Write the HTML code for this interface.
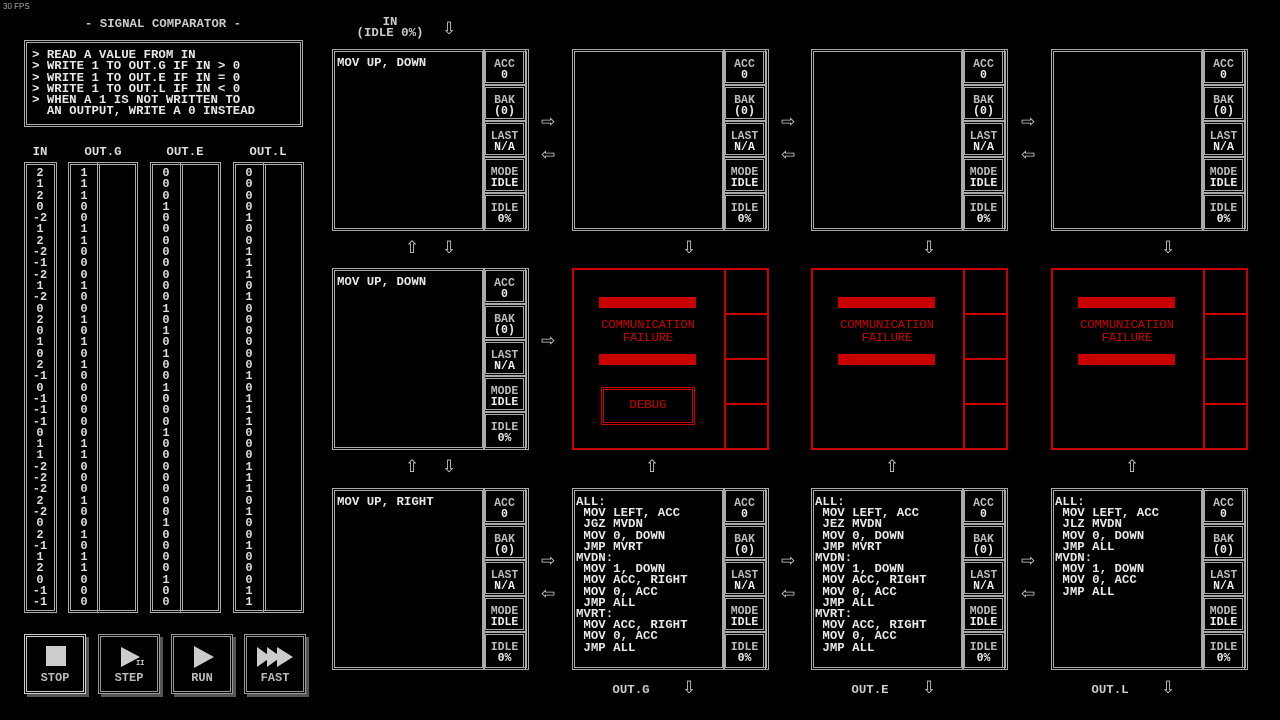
<!DOCTYPE html>
<html><head><meta charset="utf-8"><style>
*{margin:0;padding:0;box-sizing:border-box}
body{width:1280px;height:720px;background:#000;position:relative;overflow:hidden;font-family:"Liberation Mono",monospace;font-size:12.4px;color:#ddd;font-weight:bold}
.a{position:absolute}
.box{position:absolute;border:3px double #aaa}
pre{font-family:"Liberation Mono",monospace;font-size:12.4px;line-height:11.2px;font-weight:bold;color:#e8e8e8}
.reg{position:absolute;left:148px;width:43px;height:36px;border:3px double #aaa;text-align:center;font-size:11.5px;line-height:11px;padding-top:7px;color:#bbb}
.reg b{color:#eee}
.arr{position:absolute;font-family:"DejaVu Sans",sans-serif;font-size:17px;color:#ccc;font-weight:normal;line-height:17px}
.red{position:absolute;border:2px solid #c80000;width:197px;height:182px}
.rc{position:absolute;left:150px;width:45px;height:45px;border-left:2px solid #c80000;border-bottom:2px solid #c80000}
.bar{position:absolute;left:25px;width:97px;height:11px;background:#c80000}
.cf{position:absolute;left:0;width:148px;top:49px;text-align:center;color:#d00000;font-size:12px;line-height:13px;font-weight:normal}
.btn{position:absolute;top:634px;width:62px;height:60px;border:3px double #999;box-shadow:3px 3px 0 #555;text-align:center;color:#bbb;font-size:12px}
.btn span{position:absolute;bottom:6px;left:0;width:100%}
.col{position:absolute;text-align:center;line-height:11.3px;font-size:12px}
</style></head><body>
<div class="a" style="left:3px;top:2px;font-size:8px;color:#aaa;font-weight:normal;font-family:'Liberation Sans',sans-serif">30 FPS</div>
<div class="a" style="left:24px;width:278px;top:17px;text-align:center;color:#ccc">- SIGNAL COMPARATOR -</div>
<div class="box" style="left:24px;top:40px;width:279px;height:87px;padding:7px 0 0 5px"><pre style="line-height:11.3px">&gt; READ A VALUE FROM IN
&gt; WRITE 1 TO OUT.G IF IN &gt; 0
&gt; WRITE 1 TO OUT.E IF IN = 0
&gt; WRITE 1 TO OUT.L IF IN &lt; 0
&gt; WHEN A 1 IS NOT WRITTEN TO
  AN OUTPUT, WRITE A 0 INSTEAD</pre></div>
<div class="a" style="left:24px;width:32px;top:145px;text-align:center">IN</div>
<div class="a" style="left:68px;width:70px;top:145px;text-align:center">OUT.G</div>
<div class="a" style="left:150px;width:70px;top:145px;text-align:center">OUT.E</div>
<div class="a" style="left:233px;width:70px;top:145px;text-align:center">OUT.L</div>
<div class="box" style="left:24px;top:162px;width:33px;height:451px"></div>
<div class="box" style="left:68px;top:162px;width:70px;height:451px"></div><div class="box" style="left:97px;top:162px;width:41px;height:451px"></div>
<div class="box" style="left:150px;top:162px;width:71px;height:451px"></div><div class="box" style="left:180px;top:162px;width:41px;height:451px"></div>
<div class="box" style="left:233px;top:162px;width:71px;height:451px"></div><div class="box" style="left:263px;top:162px;width:41px;height:451px"></div>
<div class="col" style="left:26px;width:28px;top:168px">2<br>1<br>2<br>0<br>-2<br>1<br>2<br>-2<br>-1<br>-2<br>1<br>-2<br>0<br>2<br>0<br>1<br>0<br>2<br>-1<br>0<br>-1<br>-1<br>-1<br>0<br>1<br>1<br>-2<br>-2<br>-2<br>2<br>-2<br>0<br>2<br>-1<br>1<br>2<br>0<br>-1<br>-1</div>
<div class="col" style="left:70px;width:28px;top:168px">1<br>1<br>1<br>0<br>0<br>1<br>1<br>0<br>0<br>0<br>1<br>0<br>0<br>1<br>0<br>1<br>0<br>1<br>0<br>0<br>0<br>0<br>0<br>0<br>1<br>1<br>0<br>0<br>0<br>1<br>0<br>0<br>1<br>0<br>1<br>1<br>0<br>0<br>0</div>
<div class="col" style="left:152px;width:28px;top:168px">0<br>0<br>0<br>1<br>0<br>0<br>0<br>0<br>0<br>0<br>0<br>0<br>1<br>0<br>1<br>0<br>1<br>0<br>0<br>1<br>0<br>0<br>0<br>1<br>0<br>0<br>0<br>0<br>0<br>0<br>0<br>1<br>0<br>0<br>0<br>0<br>1<br>0<br>0</div>
<div class="col" style="left:235px;width:28px;top:168px">0<br>0<br>0<br>0<br>1<br>0<br>0<br>1<br>1<br>1<br>0<br>1<br>0<br>0<br>0<br>0<br>0<br>0<br>1<br>0<br>1<br>1<br>1<br>0<br>0<br>0<br>1<br>1<br>1<br>0<br>1<br>0<br>0<br>1<br>0<br>0<br>0<br>1<br>1</div>

<div class="btn" style="left:24px;border-color:#ccc"><div class="a" style="left:19px;top:9px;width:20px;height:20px;background:#ccc"></div><span>STOP</span></div>
<div class="btn" style="left:98px"><div class="a" style="left:20px;top:10px;width:0;height:0;border-left:19px solid #ccc;border-top:10px solid transparent;border-bottom:10px solid transparent"></div><div class="a" style="left:35px;top:23px;font-size:7px;color:#ccc">II</div><span>STEP</span></div>
<div class="btn" style="left:171px"><div class="a" style="left:20px;top:9px;width:0;height:0;border-left:20px solid #ccc;border-top:11px solid transparent;border-bottom:11px solid transparent"></div><span>RUN</span></div>
<div class="btn" style="left:244px"><div class="a" style="left:10px;top:10px;width:0;height:0;border-left:14px solid #ccc;border-top:10px solid transparent;border-bottom:10px solid transparent"></div><div class="a" style="left:20px;top:10px;width:0;height:0;border-left:14px solid #ccc;border-top:10px solid transparent;border-bottom:10px solid transparent"></div><div class="a" style="left:30px;top:10px;width:0;height:0;border-left:16px solid #ccc;border-top:10px solid transparent;border-bottom:10px solid transparent"></div><span>FAST</span></div>

<div class="a" style="left:355px;top:17px;width:70px;text-align:center;line-height:11px;color:#ccc">IN<br>(IDLE 0%)</div>
<div class="arr" style="left:442px;top:21px">⇩</div>

<div class="box" style="left:332px;top:49px;width:197px;height:182px"><div class="box" style="left:-3px;top:-3px;width:153px;height:182px"></div><pre style="position:absolute;left:2px;top:6px">MOV UP, DOWN</pre>
<div class="reg" style="top:-3px">ACC<br><b>0</b></div><div class="reg" style="top:33px">BAK<br><b>(0)</b></div><div class="reg" style="top:69px">LAST<br><b>N/A</b></div><div class="reg" style="top:105px">MODE<br><b>IDLE</b></div><div class="reg" style="top:141px;height:38px">IDLE<br><b>0%</b></div></div>

<div class="box" style="left:572px;top:49px;width:197px;height:182px"><div class="box" style="left:-3px;top:-3px;width:153px;height:182px"></div>
<div class="reg" style="top:-3px">ACC<br><b>0</b></div><div class="reg" style="top:33px">BAK<br><b>(0)</b></div><div class="reg" style="top:69px">LAST<br><b>N/A</b></div><div class="reg" style="top:105px">MODE<br><b>IDLE</b></div><div class="reg" style="top:141px;height:38px">IDLE<br><b>0%</b></div></div>

<div class="box" style="left:811px;top:49px;width:197px;height:182px"><div class="box" style="left:-3px;top:-3px;width:153px;height:182px"></div>
<div class="reg" style="top:-3px">ACC<br><b>0</b></div><div class="reg" style="top:33px">BAK<br><b>(0)</b></div><div class="reg" style="top:69px">LAST<br><b>N/A</b></div><div class="reg" style="top:105px">MODE<br><b>IDLE</b></div><div class="reg" style="top:141px;height:38px">IDLE<br><b>0%</b></div></div>

<div class="box" style="left:1051px;top:49px;width:197px;height:182px"><div class="box" style="left:-3px;top:-3px;width:153px;height:182px"></div>
<div class="reg" style="top:-3px">ACC<br><b>0</b></div><div class="reg" style="top:33px">BAK<br><b>(0)</b></div><div class="reg" style="top:69px">LAST<br><b>N/A</b></div><div class="reg" style="top:105px">MODE<br><b>IDLE</b></div><div class="reg" style="top:141px;height:38px">IDLE<br><b>0%</b></div></div>

<div class="box" style="left:332px;top:268px;width:197px;height:182px"><div class="box" style="left:-3px;top:-3px;width:153px;height:182px"></div><pre style="position:absolute;left:2px;top:6px">MOV UP, DOWN</pre>
<div class="reg" style="top:-3px">ACC<br><b>0</b></div><div class="reg" style="top:33px">BAK<br><b>(0)</b></div><div class="reg" style="top:69px">LAST<br><b>N/A</b></div><div class="reg" style="top:105px">MODE<br><b>IDLE</b></div><div class="reg" style="top:141px;height:38px">IDLE<br><b>0%</b></div></div>

<div class="box" style="left:332px;top:488px;width:197px;height:182px"><div class="box" style="left:-3px;top:-3px;width:153px;height:182px"></div><pre style="position:absolute;left:2px;top:6px">MOV UP, RIGHT</pre>
<div class="reg" style="top:-3px">ACC<br><b>0</b></div><div class="reg" style="top:33px">BAK<br><b>(0)</b></div><div class="reg" style="top:69px">LAST<br><b>N/A</b></div><div class="reg" style="top:105px">MODE<br><b>IDLE</b></div><div class="reg" style="top:141px;height:38px">IDLE<br><b>0%</b></div></div>

<div class="box" style="left:572px;top:488px;width:197px;height:182px"><div class="box" style="left:-3px;top:-3px;width:153px;height:182px"></div><pre style="position:absolute;left:1px;top:6px">ALL:
 MOV LEFT, ACC
 JGZ MVDN
 MOV 0, DOWN
 JMP MVRT
MVDN:
 MOV 1, DOWN
 MOV ACC, RIGHT
 MOV 0, ACC
 JMP ALL
MVRT:
 MOV ACC, RIGHT
 MOV 0, ACC
 JMP ALL</pre>
<div class="reg" style="top:-3px">ACC<br><b>0</b></div><div class="reg" style="top:33px">BAK<br><b>(0)</b></div><div class="reg" style="top:69px">LAST<br><b>N/A</b></div><div class="reg" style="top:105px">MODE<br><b>IDLE</b></div><div class="reg" style="top:141px;height:38px">IDLE<br><b>0%</b></div></div>

<div class="box" style="left:811px;top:488px;width:197px;height:182px"><div class="box" style="left:-3px;top:-3px;width:153px;height:182px"></div><pre style="position:absolute;left:1px;top:6px">ALL:
 MOV LEFT, ACC
 JEZ MVDN
 MOV 0, DOWN
 JMP MVRT
MVDN:
 MOV 1, DOWN
 MOV ACC, RIGHT
 MOV 0, ACC
 JMP ALL
MVRT:
 MOV ACC, RIGHT
 MOV 0, ACC
 JMP ALL</pre>
<div class="reg" style="top:-3px">ACC<br><b>0</b></div><div class="reg" style="top:33px">BAK<br><b>(0)</b></div><div class="reg" style="top:69px">LAST<br><b>N/A</b></div><div class="reg" style="top:105px">MODE<br><b>IDLE</b></div><div class="reg" style="top:141px;height:38px">IDLE<br><b>0%</b></div></div>

<div class="box" style="left:1051px;top:488px;width:197px;height:182px"><div class="box" style="left:-3px;top:-3px;width:153px;height:182px"></div><pre style="position:absolute;left:1px;top:6px">ALL:
 MOV LEFT, ACC
 JLZ MVDN
 MOV 0, DOWN
 JMP ALL
MVDN:
 MOV 1, DOWN
 MOV 0, ACC
 JMP ALL</pre>
<div class="reg" style="top:-3px">ACC<br><b>0</b></div><div class="reg" style="top:33px">BAK<br><b>(0)</b></div><div class="reg" style="top:69px">LAST<br><b>N/A</b></div><div class="reg" style="top:105px">MODE<br><b>IDLE</b></div><div class="reg" style="top:141px;height:38px">IDLE<br><b>0%</b></div></div>

<div class="red" style="left:572px;top:268px"><div class="rc" style="top:0"></div><div class="rc" style="top:45px"></div><div class="rc" style="top:90px"></div><div class="rc" style="top:135px;border-bottom:0"></div>
<div class="bar" style="top:27px"></div><div class="cf">COMMUNICATION<br>FAILURE</div><div class="bar" style="top:84px"></div>
<div class="a" style="left:27px;top:117px;width:94px;height:38px;border:3px double #c00;color:#d00000;text-align:center;line-height:30px;font-weight:normal">DEBUG</div></div>
<div class="red" style="left:811px;top:268px"><div class="rc" style="top:0"></div><div class="rc" style="top:45px"></div><div class="rc" style="top:90px"></div><div class="rc" style="top:135px;border-bottom:0"></div>
<div class="bar" style="top:27px"></div><div class="cf">COMMUNICATION<br>FAILURE</div><div class="bar" style="top:84px"></div></div>
<div class="red" style="left:1051px;top:268px"><div class="rc" style="top:0"></div><div class="rc" style="top:45px"></div><div class="rc" style="top:90px"></div><div class="rc" style="top:135px;border-bottom:0"></div>
<div class="bar" style="top:27px"></div><div class="cf">COMMUNICATION<br>FAILURE</div><div class="bar" style="top:84px"></div></div>

<div class="arr" style="left:541px;top:114px">⇨</div><div class="arr" style="left:541px;top:147px">⇦</div>
<div class="arr" style="left:781px;top:114px">⇨</div><div class="arr" style="left:781px;top:147px">⇦</div>
<div class="arr" style="left:1021px;top:114px">⇨</div><div class="arr" style="left:1021px;top:147px">⇦</div>
<div class="arr" style="left:405px;top:240px">⇧</div><div class="arr" style="left:442px;top:240px">⇩</div>
<div class="arr" style="left:682px;top:240px">⇩</div><div class="arr" style="left:922px;top:240px">⇩</div><div class="arr" style="left:1161px;top:240px">⇩</div>
<div class="arr" style="left:541px;top:333px">⇨</div>
<div class="arr" style="left:405px;top:459px">⇧</div><div class="arr" style="left:442px;top:459px">⇩</div>
<div class="arr" style="left:645px;top:459px">⇧</div><div class="arr" style="left:885px;top:459px">⇧</div><div class="arr" style="left:1125px;top:459px">⇧</div>
<div class="arr" style="left:541px;top:553px">⇨</div><div class="arr" style="left:541px;top:586px">⇦</div>
<div class="arr" style="left:781px;top:553px">⇨</div><div class="arr" style="left:781px;top:586px">⇦</div>
<div class="arr" style="left:1021px;top:553px">⇨</div><div class="arr" style="left:1021px;top:586px">⇦</div>
<div class="a" style="left:606px;top:683px;width:50px;text-align:center;color:#ccc">OUT.G</div><div class="arr" style="left:682px;top:680px">⇩</div>
<div class="a" style="left:845px;top:683px;width:50px;text-align:center;color:#ccc">OUT.E</div><div class="arr" style="left:922px;top:680px">⇩</div>
<div class="a" style="left:1085px;top:683px;width:50px;text-align:center;color:#ccc">OUT.L</div><div class="arr" style="left:1161px;top:680px">⇩</div>
</body></html>
